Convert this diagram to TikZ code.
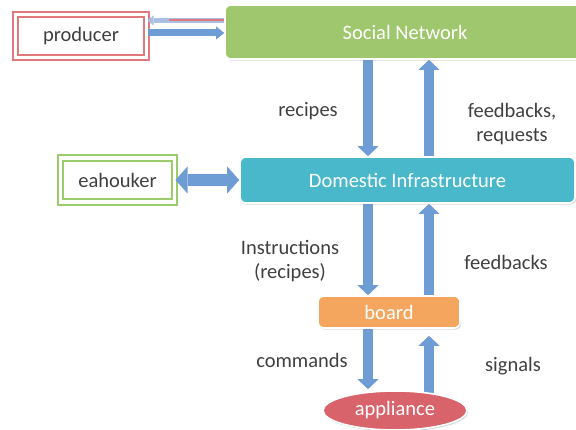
\documentclass[tikz,border=0pt]{standalone}
\usepackage{fontspec}
\setmainfont{Carlito}
\usetikzlibrary{arrows.meta,shapes.geometric,shadows,backgrounds}

\definecolor{snGreen}{HTML}{9FC76D}
\definecolor{diCyan}{HTML}{4AB8CB}
\definecolor{boardOrange}{HTML}{F4A55E}
\definecolor{applRed}{HTML}{D8636B}
\definecolor{arrowBlue}{HTML}{6E9DD6}
\definecolor{arrowLight}{HTML}{A9C0E3}
\definecolor{prodRed}{HTML}{E0797E}
\definecolor{ehGreen}{HTML}{9BCB6A}
\definecolor{labelGray}{HTML}{404040}

\tikzset{
  txt/.style={font=\fontsize{20.5}{24}\selectfont},
  block/.style={txt, text=white, draw=white, line width=1.6pt,
    rounded corners=6pt, inner sep=0pt,
    drop shadow={shadow xshift=1.2pt, shadow yshift=-1.6pt, opacity=0.3}},
  actor/.style={txt, text=labelGray, fill=white, line width=2pt,
    double=white, double distance=3.2pt, inner sep=0pt},
  lbl/.style={txt, text=labelGray, align=center, inner sep=0pt},
  flow/.style={arrowBlue, line width=10pt,
    -{Triangle[width=21pt,length=10pt,line width=0pt]}},
  twoway/.style={arrowBlue, line width=12pt,
    {Triangle[width=27pt,length=12pt,line width=0pt]}-{Triangle[width=27pt,length=12pt,line width=0pt]}},
}

\begin{document}
\begin{tikzpicture}[x=1pt,y=-1pt]
\useasboundingbox (0,0) rectangle (576,430);

% main blocks
\node[block, fill=snGreen, minimum width=360pt, minimum height=54pt]
  (sn) at (405,32) {Social Network};
\node[block, fill=diCyan, minimum width=335pt, minimum height=46pt]
  (di) at (407.5,180) {Domestic Infrastructure};
\node[block, fill=boardOrange, minimum width=142pt, minimum height=32pt]
  (board) at (389,312) {board};
\node[block, ellipse, fill=applRed, minimum width=144pt, minimum height=39pt,
  rounded corners=0pt] (appl) at (395,410.5) {appliance};

% actors
\node[actor, draw=prodRed, minimum width=131pt, minimum height=43pt]
  (prod) at (81,36) {producer};
\node[actor, draw=ehGreen, minimum width=114pt, minimum height=44pt]
  (eh) at (117.5,180) {eahouker};

% columns and rows used by the connectors
\coordinate (cl) at (368,0);
\coordinate (cr) at (429,0);
\coordinate (rtop) at (0,20.5);
\coordinate (rbot) at (0,33);

\begin{pgfonlayer}{background}
  % social network <-> domestic infrastructure
  \draw[flow] (sn.south -| cl) -- (di.north -| cl);
  \draw[flow] (di.north -| cr) -- (sn.south -| cr);
  % domestic infrastructure <-> board
  \draw[flow] (di.south -| cl) -- (board.north -| cl);
  \draw[flow] (board.north -| cr) -- (di.south -| cr);
  % board <-> appliance
  \draw[flow] (board.south -| cl) -- ([yshift=1pt]appl.north -| cl);
  \draw[flow] ([yshift=-4pt]appl.north -| cr) -- ([yshift=-7pt]board.south -| cr);
\end{pgfonlayer}

% producer <-> social network
\draw[arrowLight, line width=5pt,
  -{Triangle[width=10pt,length=6pt,line width=0pt]}]
  (sn.west |- rtop) -- (prod.east |- rtop);
\draw[prodRed, line width=2pt] (sn.west |- rtop) -- ++(-55,0);
\draw[arrowBlue, line width=7pt,
  -{Triangle[width=13pt,length=8pt,line width=0pt]}]
  (prod.east |- rbot) -- (sn.west |- rbot);

% eahouker <-> domestic infrastructure
\draw[twoway] (eh.east |- di.west) -- (di.west);

% labels
\node[lbl] (l1) at (308,111) {recipes};
\node[lbl] (l2) at (512,124) {feedbacks,\\requests};
\node[lbl] (l3) at (290,261) {Instructions\\(recipes)};
\node[lbl] (l4) at (506,262) {feedbacks};
\node[lbl] (l5) at (302,360) {commands};
\node[lbl] (l6) at (513,366) {signals};
\end{tikzpicture}
\end{document}
